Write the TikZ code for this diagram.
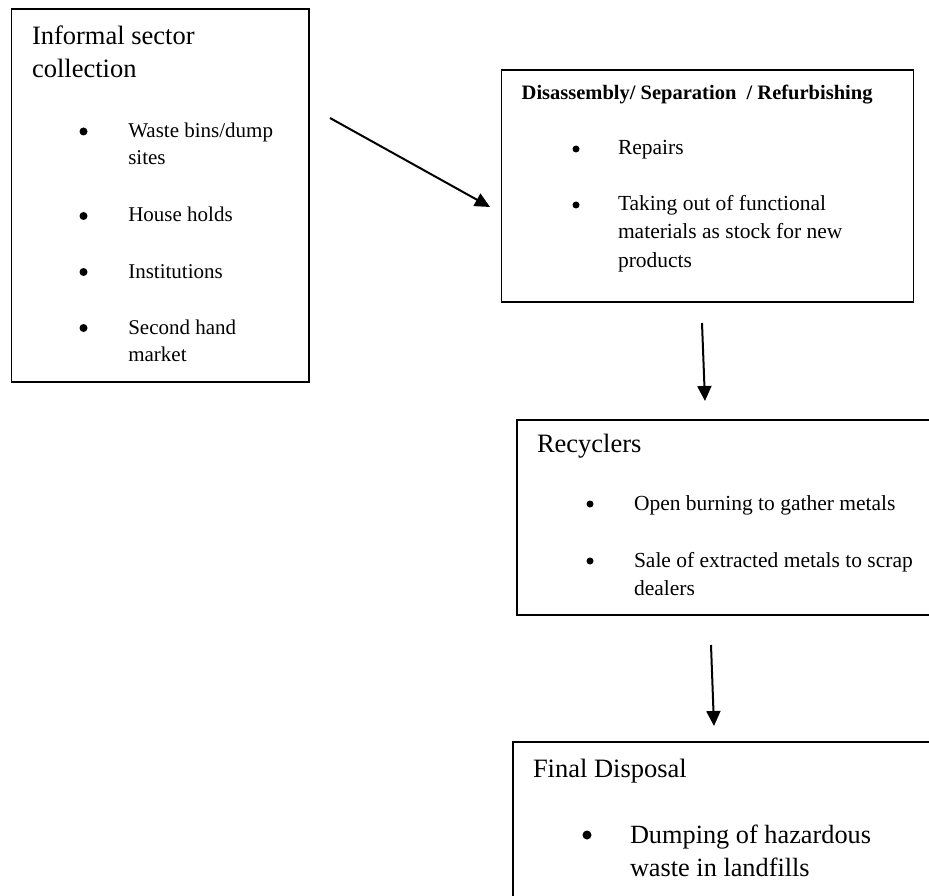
\documentclass[tikz,border=0pt]{standalone}
\usepackage{fontspec}
\setmainfont{Liberation Serif}
\usetikzlibrary{arrows.meta}
\tikzset{
  box/.style={draw=black, line width=1.8pt, rectangle, anchor=north west, inner sep=0pt},
  txt/.style={anchor=base west, inner sep=0pt, outer sep=0pt},
  dot/.style={circle, fill=black, inner sep=0pt, minimum size=#1},
  dot/.default=8pt,
  arr/.style={line width=2pt, -{Triangle[length=15pt,width=14pt]}},
  fa/.style={font=\fontsize{21}{25}\selectfont},
  fb/.style={font=\fontsize{21.5}{25}\selectfont},
  fh/.style={font=\fontsize{26.5}{30}\selectfont},
}
\begin{document}
\begin{tikzpicture}[x=1pt,y=-1pt]
\clip (0,0) rectangle (929,896);
\fill[white] (0,0) rectangle (929,896);

% boxes
\node[box, minimum width=297.5pt, minimum height=372.5pt] (b1) at (10.5,8.5) {};
\node[box, minimum width=412pt, minimum height=232pt] (b2) at (500.5,69.3) {};
\node[box, minimum width=430pt, minimum height=195pt] (b3) at (515.7,419.3) {};
\node[box, minimum width=430pt, minimum height=200pt] (b4) at (511.7,741) {};

% box 1 text
\node[txt, fh] (t1a) at (32,45) {Informal sector};
\node[txt, fh] (t1b) at (32,78) {collection};
\node[dot] (d11) at (83.5,131.5) {};
\node[txt, fa] (l11) at (128.3,137.5) {Waste bins/dump};
\node[txt, fa] (l11b) at (128.3,165) {sites};
\node[dot] (d12) at (83.5,216) {};
\node[txt, fa] (l12) at (128.3,222) {House holds};
\node[dot] (d13) at (83.5,272) {};
\node[txt, fa] (l13) at (128.3,278) {Institutions};
\node[dot] (d14) at (83.5,328) {};
\node[txt, fa] (l14) at (128.3,334) {Second hand};
\node[txt, fa] (l14b) at (128.3,361) {market};

% box 2 text
\node[txt, font=\fontsize{20.5}{24}\selectfont\bfseries] (t2) at (521.7,99.5) {Disassembly/ Separation~~/ Refurbishing};
\node[dot=7pt] (d21) at (576,149) {};
\node[txt, fb] (l21) at (618,155) {Repairs};
\node[dot=7pt] (d22) at (576,205) {};
\node[txt, fb] (l22) at (618,211) {Taking out of functional};
\node[txt, fb] (l22b) at (618,239) {materials as stock for new};
\node[txt, fb] (l22c) at (618,267) {products};

% box 3 text
\node[txt, fh] (t3) at (537,452) {Recyclers};
\node[dot=7pt] (d31) at (590,504) {};
\node[txt, fb] (l31) at (634,510) {Open burning to gather metals};
\node[dot=7pt] (d32) at (590,561) {};
\node[txt, fb] (l32) at (634,567) {Sale of extracted metals to scrap};
\node[txt, fb] (l32b) at (634,595) {dealers};

% box 4 text
\node[txt, fh] (t4) at (533,777) {Final Disposal};
\node[dot=9pt] (d41) at (587,835) {};
\node[txt, font=\fontsize{26.3}{30}\selectfont] (l41) at (630,843) {Dumping of hazardous};
\node[txt, font=\fontsize{26.3}{30}\selectfont] (l41b) at (630,876) {waste in landfills};

% arrows
\coordinate (a1s) at (330,118);
\coordinate (a1e) at (490,207);
\coordinate (a2s) at (702,323);
\coordinate (a2e) at (705,401);
\coordinate (a3s) at (711,645);
\coordinate (a3e) at (714,726);
\draw[arr] (a1s) -- (a1e);
\draw[arr] (a2s) -- (a2e);
\draw[arr] (a3s) -- (a3e);
\end{tikzpicture}
\end{document}
